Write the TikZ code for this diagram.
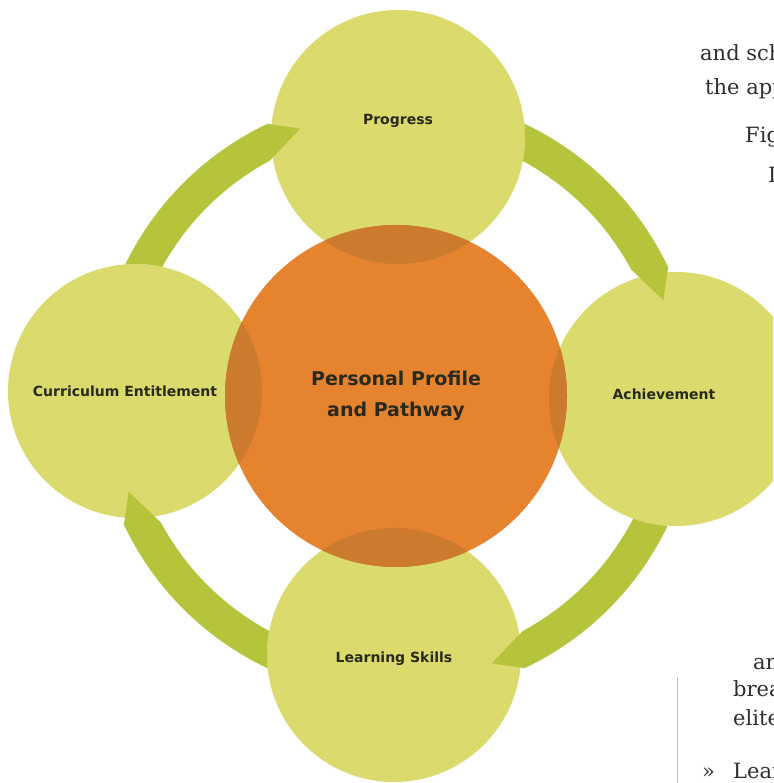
\documentclass[tikz,border=0pt]{standalone}
\usepackage{fontspec}
\setmainfont{DejaVu Sans}
\newfontfamily\pagefont{DejaVu Serif}
\definecolor{satgreen}{HTML}{DADB6C}
\definecolor{arcgreen}{HTML}{B5C43A}
\definecolor{hubfill}{HTML}{E5832F}
\definecolor{hubdark}{HTML}{CC7A2E}
\definecolor{ink}{HTML}{2A2A1C}
\definecolor{pageink}{HTML}{2E2E2E}
\begin{document}
\begin{tikzpicture}[x=1pt, y=1pt,
  sat/.style={circle, fill=satgreen, minimum size=254pt, inner sep=0pt},
  satlabel/.style={font=\fontsize{14}{16}\selectfont\bfseries, text=ink},
  pagetext/.style={anchor=base west, inner sep=0pt, text=pageink, font=\pagefont\fontsize{21}{26}\selectfont}]
\clip (0,0) rectangle (773,783);
\coordinate (mid) at (396,387);
\node[sat, label={[satlabel, yshift=16pt]center:Progress}] (prog) at (398,646) {};
\node[sat, label={[satlabel, xshift=-12pt, yshift=5pt]center:Achievement}] (ach) at (676,384) {};
\node[sat, label={[satlabel, yshift=-4pt]center:Learning Skills}] (learn) at (394,128) {};
\node[sat, label={[satlabel, xshift=-10pt]center:Curriculum Entitlement}] (curr) at (135,392) {};
\foreach \src [count=\k from 0] in {curr,prog,ach,learn} {
  \begin{scope}[even odd rule]
    \clip (0,0) rectangle (773,783) (\src.center) circle[radius=127pt];
    \fill[arcgreen, shift={(mid)}] ({175-90*\k}:301pt)
      arc[start angle={175-90*\k}, end angle={115.3-90*\k}, radius=301pt]
      -- ({109.7-90*\k}:284pt) -- ({118.3-90*\k}:267pt)
      arc[start angle={118.3-90*\k}, end angle={175-90*\k}, radius=267pt] -- cycle;
  \end{scope}
}
\node[circle, fill=hubfill, minimum size=342pt, inner sep=0pt, text=ink, align=center,
  font=\fontsize{19}{31}\selectfont\bfseries] (hub) at (mid) {Personal Profile\\and Pathway};
\foreach \sat in {prog,ach,learn,curr} {
  \begin{scope}
    \clip (\sat.center) circle[radius=127pt];
    \fill[hubdark] (hub.center) circle[radius=171pt];
  \end{scope}
}
\node[pagetext] (sch) at (700,722) {and sch};
\node[pagetext] (app) at (705,688) {the app};
\node[pagetext] (fig) at (745,640) {Fig};
\node[pagetext] (cut) at (768,600) {I};
\node[pagetext] (an) at (753,113) {an};
\node[pagetext] (brea) at (733,86) {brea};
\node[pagetext] (elite) at (733,57) {elite};
\node[pagetext] (mark) at (702,5) {»};
\node[pagetext] (lear) at (733,5) {Lear};
\draw[gray!50, line width=1pt] (677,0) -- (677,106);
\end{tikzpicture}
\end{document}
